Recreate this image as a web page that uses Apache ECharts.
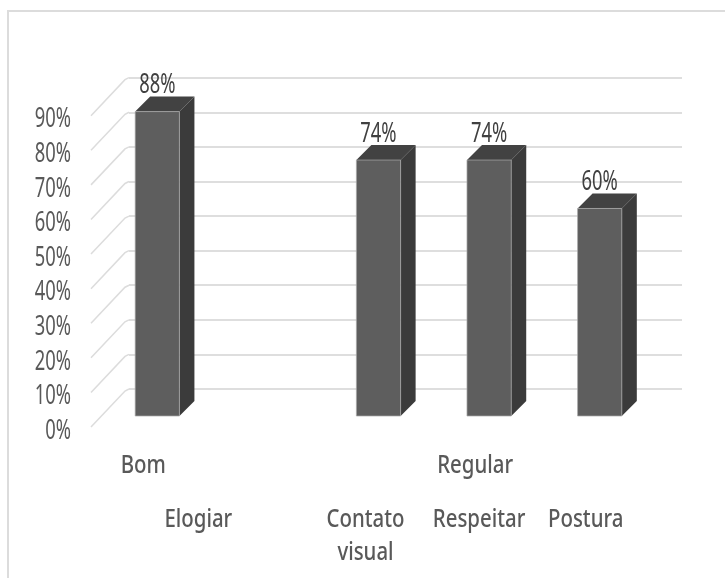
<!DOCTYPE html>
<html>
<head>
<meta charset="utf-8">
<style>html,body{margin:0;padding:0;background:#fff}#chart{width:725px;height:578px}</style>
<script src="https://cdn.jsdelivr.net/npm/echarts@6/dist/echarts.min.js"></script>
</head>
<body>
<div id="chart"></div>
<script>
// Percentual de respostas por comportamento
const categories = ['Elogiar', '', 'Contato\nvisual', 'Respeitar', 'Postura'];
const groups = ['Bom', '', '', 'Regular', ''];
const values = [88, null, 74, 74, 60];
const yTicks = [0, 10, 20, 30, 40, 50, 60, 70, 80, 90];

// Pseudo-3D depth of the chart floor and of each column, in pixels
const FLOOR_DEPTH = 38;
const BAR_GAP = 11;
const BAR_DEPTH = 15;

// Narrow text: glyphs are drawn at full height and squeezed horizontally
const FONT = '"Noto Sans", sans-serif';
const SQUEEZE_TEXT = 0.785;
const SQUEEZE_NUMBER = 0.68;
const labelShift = [14, 0, -40, -37, -41];
const groupShift = -41;
const LINE_GAP = 33;

function squeezedText(x, y, text, size, color, squeeze, align, weight) {
  return {
    type: 'text',
    x, y,
    scaleX: squeeze,
    silent: true,
    style: { x: 0, y: 0, text, align: align || 'center', verticalAlign: 'middle',
      font: (weight || 500) + ' ' + size + 'px ' + FONT, fill: color }
  };
}

function renderFloorLine(p, api) {
  const tickValue = api.value(1);
  const y = api.coord([0, tickValue])[1];
  const x0 = p.coordSys.x;
  return {
    type: 'group',
    children: [
      { type: 'polyline', silent: true,
        shape: { points: [[x0 - FLOOR_DEPTH, y + FLOOR_DEPTH], [x0 - 4, y + 2], [x0, y]] },
        style: { fill: null, stroke: '#dcdcdc', lineWidth: 1.5 } },
      squeezedText(x0 - 58, y + FLOOR_DEPTH + 4, tickValue + '%', 27, '#595959', SQUEEZE_NUMBER, 'right', 400)
    ]
  };
}

function renderBar(p, api) {
  const v = api.value(1);
  if (v == null || isNaN(v)) return null;
  const base = api.coord([api.value(0), 0]);
  const top = api.coord([api.value(0), v]);
  const w = api.size([1, 0])[0] * 0.4;
  const off = FLOOR_DEPTH - BAR_GAP;
  const xl = base[0] - off - w / 2, xr = xl + w;
  const yb = base[1] + off, yt = top[1] + off;
  const d = BAR_DEPTH;
  return {
    type: 'group',
    children: [
      { type: 'polygon', shape: { points: [[xl, yt], [xr, yt], [xr + d, yt - d], [xl + d, yt - d]] },
        style: { fill: '#424242' } },
      { type: 'polygon', shape: { points: [[xr, yt], [xr + d, yt - d], [xr + d, yb - d], [xr, yb]] },
        style: { fill: '#3b3b3b' } },
      { type: 'rect', shape: { x: xl, y: yt, width: w, height: yb - yt },
        style: { fill: '#5e5e5e', stroke: 'rgba(170,170,170,0.7)', lineWidth: 1 } },
      squeezedText(xl + w / 2, yt - d - 11, v + '%', 27, '#404040', SQUEEZE_NUMBER, 'center', 400)
    ]
  };
}

function renderCategoryLabel(p, api) {
  const i = api.value(0);
  const x = api.coord([i, 0])[0];
  const y = api.coord([i, 0])[1];
  const children = [];
  if (groups[i]) {
    children.push(squeezedText(x + groupShift, y + 77, groups[i], 26, '#595959', SQUEEZE_TEXT));
  }
  categories[i].split('\n').forEach((line, n) => {
    if (line) children.push(squeezedText(x + labelShift[i], y + 131 + n * LINE_GAP, line, 26, '#595959', SQUEEZE_TEXT));
  });
  return { type: 'group', children };
}

const chart = echarts.init(document.getElementById('chart'), null, { renderer: 'canvas' });

chart.setOption({
  animation: false,
  backgroundColor: '#ffffff',
  graphic: [{
    type: 'polyline',
    silent: true,
    shape: { points: [[8, 578], [8, 11], [725, 11]] },
    style: { fill: null, stroke: '#dcdcdc', lineWidth: 2 }
  }],
  grid: { left: 129, right: 43, top: 77.7, bottom: 189 },
  xAxis: {
    type: 'category',
    data: categories,
    axisLine: { show: false }, axisTick: { show: false }, axisLabel: { show: false }
  },
  yAxis: {
    type: 'value', min: 0, max: 90, interval: 10,
    axisLine: { show: false }, axisTick: { show: false }, axisLabel: { show: false },
    splitLine: { lineStyle: { color: '#dedede', width: 2 } }
  },
  series: [
    { type: 'custom', coordinateSystem: 'cartesian2d', silent: true, z: 1,
      data: yTicks.map(t => [0, t]), encode: { x: 0, y: 1 },
      renderItem: renderFloorLine },
    { type: 'custom', coordinateSystem: 'cartesian2d', silent: true, z: 3,
      data: values.map((v, i) => [i, v]), encode: { x: 0, y: 1 },
      renderItem: renderBar },
    { type: 'custom', coordinateSystem: 'cartesian2d', silent: true, z: 2,
      data: categories.map((c, i) => [i, 0]), encode: { x: 0, y: 1 },
      renderItem: renderCategoryLabel }
  ]
});
</script>
</body>
</html>
